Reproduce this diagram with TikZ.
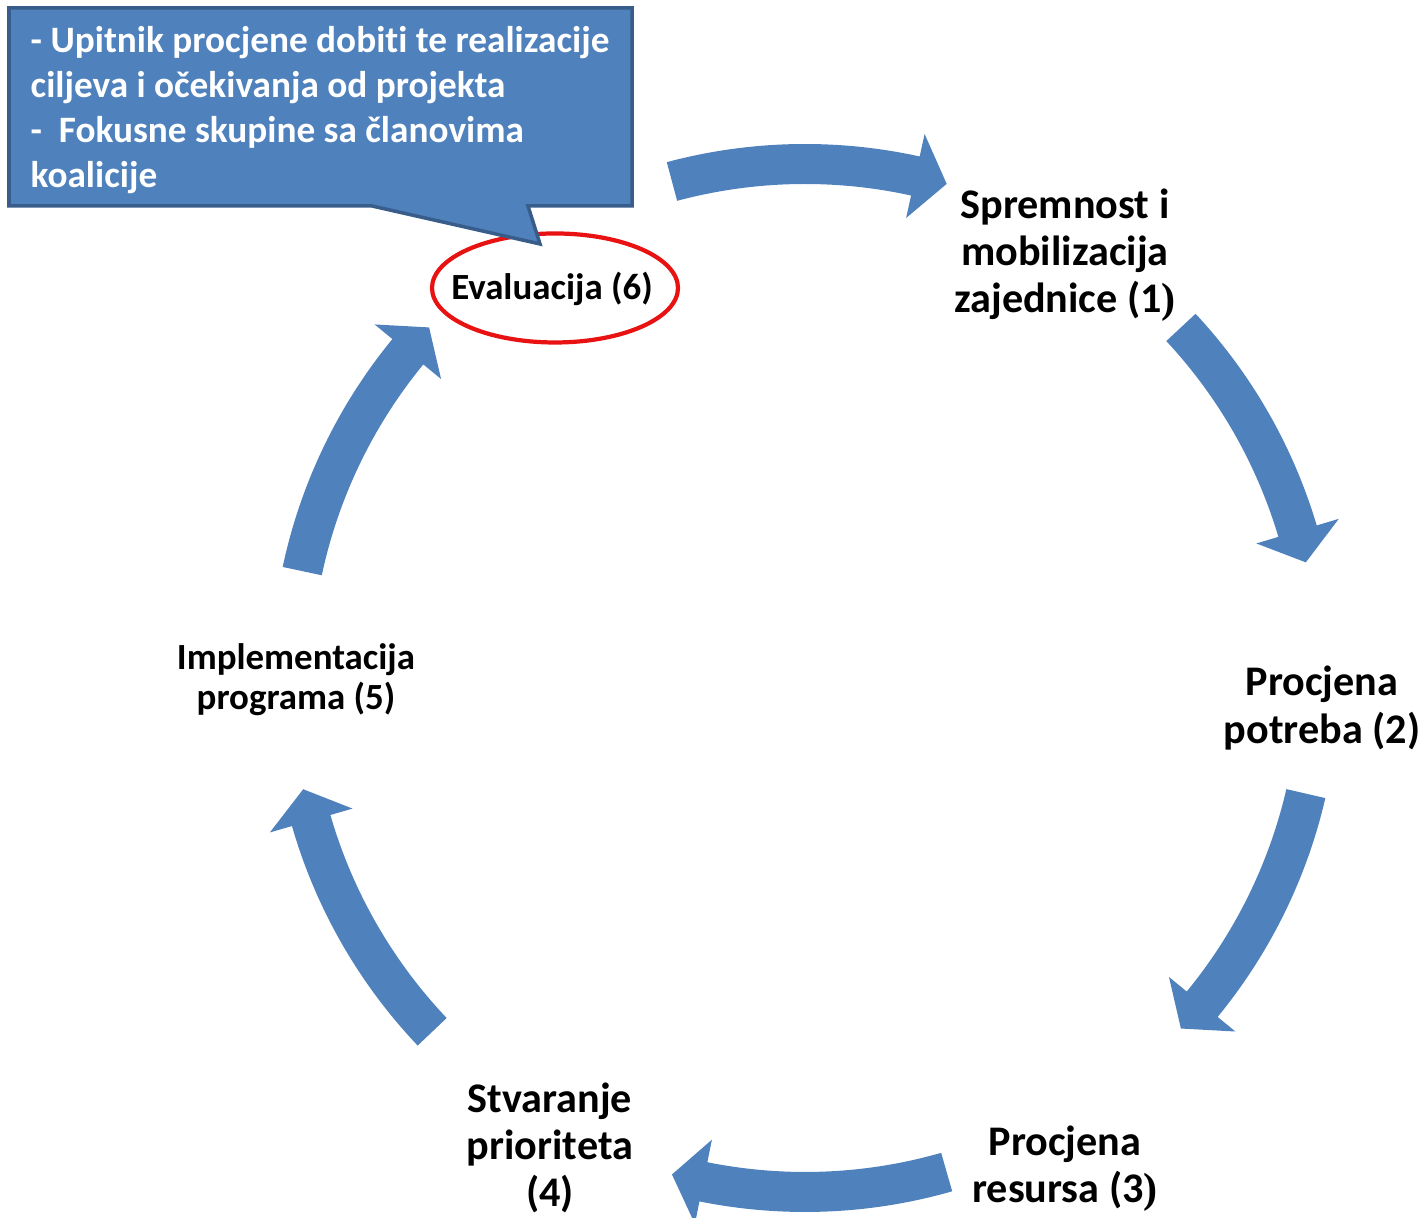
\documentclass[tikz,border=0pt]{standalone}
\usepackage{fontspec}
\setmainfont{Carlito}[Ligatures=NoCommon]
\newfontfamily\parenfont{Liberation Serif}
\usetikzlibrary{positioning}
\definecolor{cycleblue}{HTML}{4F81BD}
\definecolor{calloutedge}{HTML}{385D8A}
\definecolor{evalred}{RGB}{232,18,18}

\begin{document}
\begin{tikzpicture}[x=0.1mm,y=0.1mm,
    steplabel/.style={font=\bfseries\fontsize{12}{13.4}\selectfont, align=center, inner sep=0pt},
    smalllabel/.style={font=\bfseries\fontsize{10.5}{11.4}\selectfont, align=center, inner sep=0pt}]
    \useasboundingbox (0,0) rectangle (1425,1218);
    % cycle arrows
    \begin{scope}[shift={(805,540)}]
    \foreach \s/\e [evaluate=\e as \b using \e+3.6] in {105/74,43/13,-13/-43,-74/-105,223.5/192.5,168/137}
        {
            \fill[cycleblue] (\s:53.4mm) arc[start angle=\s, end angle=\b, radius=53.4mm]
                -- (\b:55.7mm) -- (\e:51.4mm) -- (\b:47.1mm) -- (\b:49.4mm)
                arc[start angle=\b, end angle=\s, radius=49.4mm] -- cycle;
        }
    \end{scope}
    % steps
    \node[steplabel] (step1) at (1065,963) {Spremnost i\\mobilizacija\\zajednice (1{\parenfont )}};
    \node[steplabel] (step2) at (1322,510) {Procjena\\potreba (2)};
    \node[steplabel] (step3) at (1065,49) {Procjena\\resursa (3{\parenfont )}};
    \node[steplabel] (step4) at (550,70) {Stvaranje\\prioriteta\\(4)};
    \node[smalllabel] (step5) at (296,538) {Implementacija\\programa (5)};
    \node[smalllabel] (step6) at (552,929) {Evaluacija (6)};
    \draw[evalred, line width=1.2pt] (555,930) ellipse [x radius=12.3mm, y radius=5.45mm];
    % callout
    \draw[fill=cycleblue, draw=calloutedge, line width=1pt] (9,1210) -- (632,1210) -- (632,1012) -- (528,1012)
        -- (540,974) -- (372,1012) -- (9,1012) -- cycle;
    \node[anchor=west, align=left, inner sep=0pt, text=white, font=\bfseries\fontsize{10.6}{12.8}\selectfont] (note) at (30,1108)
        {- Upitnik procjene dobiti te realizacije\\ciljeva i očekivanja od projekta\\-\ \ Fokusne skupine sa članovima\\koalicije};
\end{tikzpicture}
\end{document}
